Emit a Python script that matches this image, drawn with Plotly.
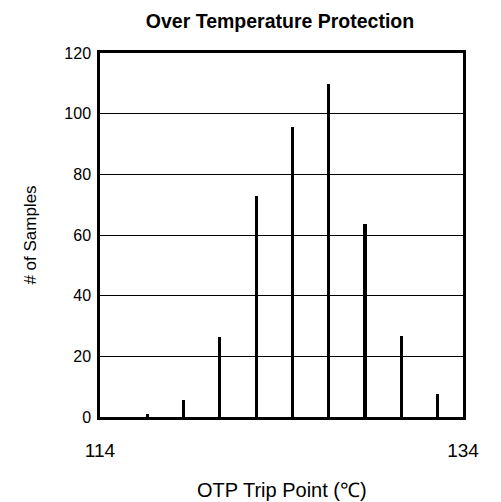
import plotly.graph_objects as go

trip_points = [116.6, 118.6, 120.6, 122.6, 124.6, 126.6, 128.6, 130.6, 132.6]
samples = [1, 5.5, 26.5, 72.7, 95.7, 109.9, 63.6, 26.6, 7.7]
x_tick_vals = [114, 134]
y_tick_vals = [0, 20, 40, 60, 80, 100, 120]

font_family = "Liberation Sans, Arial, sans-serif"

L, R, T, B = 92, 46, 45, 93
W, H = 501, 502
plot_h = H - T - B

fig = go.Figure()
fig.add_trace(go.Bar(
    x=trip_points, y=samples, width=0.17,
    marker=dict(color="black", line=dict(width=0)),
))

fig.update_layout(
    width=W, height=H,
    margin=dict(l=L, r=R, t=T, b=B),
    paper_bgcolor="white", plot_bgcolor="white",
    showlegend=False,
    font=dict(family=font_family, color="black", size=16),
    title=dict(text="<b>Over Temperature Protection</b>", x=272 / W, xanchor="center",
               xref="container", yref="container",
               y=1 - 13 / H, yanchor="middle",
               font=dict(size=19.5, family=font_family, color="black")),
    bargap=0,
    annotations=[dict(
        text="OTP Trip Point (℃)", xref="paper", yref="paper",
        x=0.5, y=-(482 - (H - B)) / plot_h, xanchor="center", yanchor="middle",
        showarrow=False, font=dict(size=20, family=font_family, color="black"),
    )],
)
fig.update_xaxes(
    range=[114, 134], tickvals=x_tick_vals, ticktext=[str(v) for v in x_tick_vals],
    showgrid=False, zeroline=False,
    showline=True, linecolor="black", linewidth=2.5, mirror=True,
    ticks="", ticklabelstandoff=14,
    tickfont=dict(size=19),
)
fig.update_yaxes(
    range=[0, 120], tickvals=y_tick_vals,
    showgrid=True, gridcolor="black", gridwidth=1, zeroline=False,
    showline=True, linecolor="black", linewidth=2.5, mirror=True,
    ticks="", ticklabelstandoff=3,
    title=dict(text="# of Samples", standoff=24, font=dict(size=17)),
    tickfont=dict(size=16),
)

fig.write_html("out.html")
